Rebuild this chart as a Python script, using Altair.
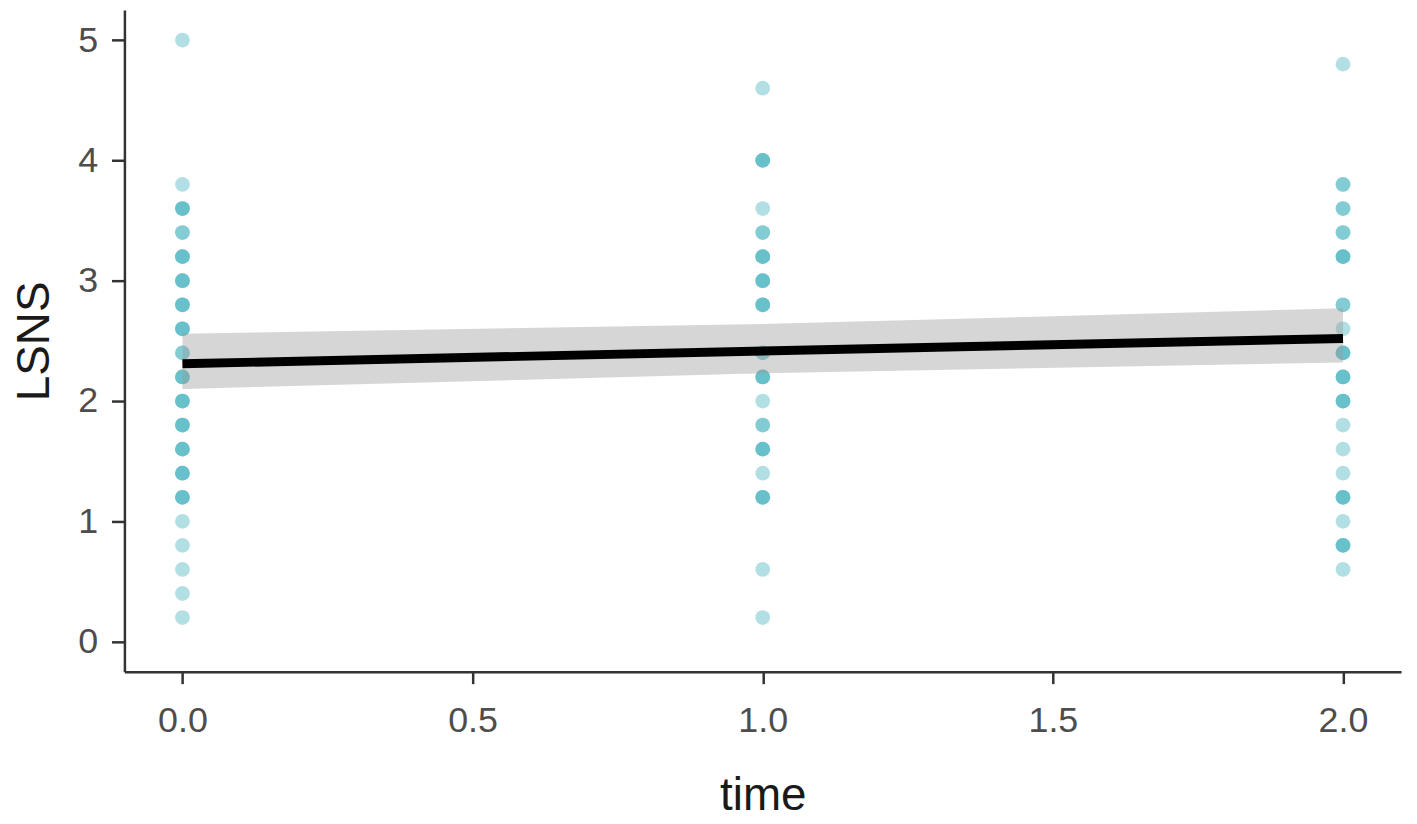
import altair as alt
import pandas as pd

# LSNS values observed at each time point, with the number of overlapping points (read from opacity)
time0_values = [5.0, 3.8, 3.6, 3.4, 3.2, 3.0, 2.8, 2.6, 2.4, 2.2, 2.0, 1.8, 1.6, 1.4, 1.2, 1.0, 0.8, 0.6, 0.4, 0.2]
time0_counts = [1,   1,   3,   2,   3,   3,   3,   3,   2,   3,   3,   3,   3,   3,   3,   1,   1,   1,   1,   1]

time1_values = [4.6, 4.0, 3.6, 3.4, 3.2, 3.0, 2.8, 2.4, 2.2, 2.0, 1.8, 1.6, 1.4, 1.2, 0.6, 0.2]
time1_counts = [1,   3,   1,   2,   3,   3,   3,   2,   3,   1,   2,   3,   1,   3,   1,   1]

time2_values = [4.8, 3.8, 3.6, 3.4, 3.2, 2.8, 2.6, 2.4, 2.2, 2.0, 1.8, 1.6, 1.4, 1.2, 1.0, 0.8, 0.6]
time2_counts = [1,   2,   2,   2,   3,   2,   1,   3,   3,   3,   1,   1,   1,   3,   1,   3,   1]

# Linear fit and its confidence band
fit_time = [0, 2]
fit_value = [2.31, 2.52]
band_time = [0, 1, 2]
band_low = [2.10, 2.23, 2.32]
band_high = [2.56, 2.64, 2.77]

x_ticks = [0, 0.5, 1, 1.5, 2]
y_ticks = [0, 1, 2, 3, 4, 5]

rows = []
for t, vals, cnts in [(0, time0_values, time0_counts), (1, time1_values, time1_counts), (2, time2_values, time2_counts)]:
    for v, c in zip(vals, cnts):
        for _ in range(c):
            rows.append({"time": t, "LSNS": v})
pts = pd.DataFrame(rows)
fit_df = pd.DataFrame({"time": fit_time, "fit": fit_value})
band_df = pd.DataFrame({"time": band_time, "lo": band_low, "hi": band_high})

xscale = alt.Scale(domain=[-0.1, 2.1], nice=False, zero=False)
yscale = alt.Scale(domain=[-0.25, 5.25], nice=False, zero=False)

x_axis = alt.Axis(values=x_ticks, format=".1f", title="time", grid=False,
                  tickSize=12, labelPadding=20, titleY=138, titleBaseline="alphabetic")
y_axis = alt.Axis(values=y_ticks, format="d", title="LSNS", grid=False,
                  tickSize=13, labelPadding=14, titleX=-76, titleBaseline="alphabetic")

points = alt.Chart(pts).mark_circle(size=220, color="#3FAFBB", opacity=0.4).encode(
    x=alt.X("time:Q", scale=xscale, axis=x_axis),
    y=alt.Y("LSNS:Q", scale=yscale, axis=y_axis),
)

band = alt.Chart(band_df).mark_area(color="#999999", opacity=0.4).encode(
    x=alt.X("time:Q", scale=xscale),
    y=alt.Y("lo:Q", scale=yscale),
    y2="hi:Q",
)

line = alt.Chart(fit_df).mark_line(color="black", strokeWidth=9).encode(
    x=alt.X("time:Q", scale=xscale),
    y=alt.Y("fit:Q", scale=yscale),
)

chart = alt.layer(points, band, line).properties(
    width=1283, height=665,
    autosize=alt.AutoSizeParams(type="none"),
    padding={"left": 117, "top": 0, "right": 8, "bottom": 143},
).configure_view(stroke=None).configure_axis(
    domainColor="#333333", domainWidth=2.5, tickColor="#333333", tickWidth=2.5,
    labelFont="Liberation Sans", labelFontSize=36, labelColor="#4D4D4D",
    titleFont="Liberation Sans", titleFontSize=46, titleColor="#1A1A1A", titleFontWeight="normal",
)

chart.save("out.html", embed_options={"renderer": "svg", "actions": False})
